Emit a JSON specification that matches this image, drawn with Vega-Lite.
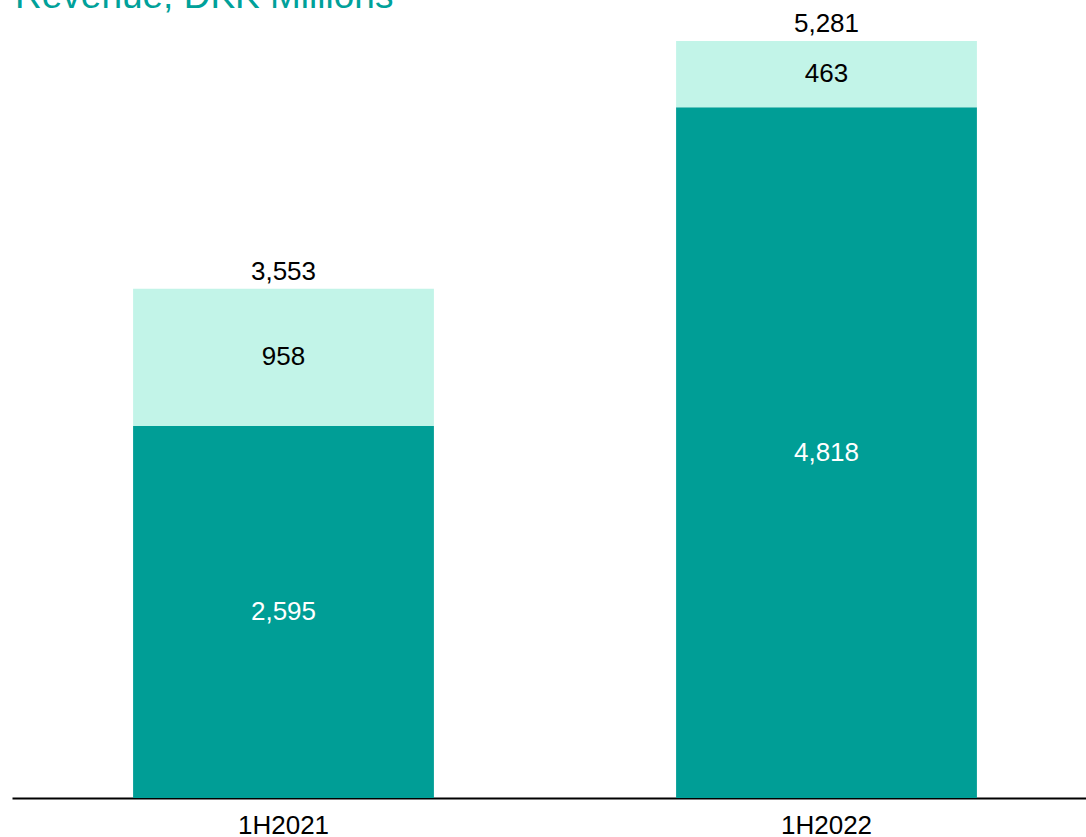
{
  "$schema": "https://vega.github.io/schema/vega-lite/v6.json",
  "width": 1086,
  "height": 798,
  "autosize": {"type": "none"},
  "padding": {"left": 12, "top": 0, "right": 0, "bottom": 39},
  "background": "white",
  "title": {
    "text": "Revenue, DKK Millions",
    "anchor": "start",
    "frame": "group",
    "color": "#00A19A",
    "fontSize": 37,
    "font": "Liberation Sans",
    "fontWeight": "normal",
    "offset": -16,
    "dx": 3
  },
  "config": {
    "view": {"stroke": null},
    "font": "Liberation Sans"
  },
  "data": {
    "values": [
      {"period": "1H2021", "segment": "Base", "order": 1, "value": 2595},
      {"period": "1H2021", "segment": "Other", "order": 2, "value": 958},
      {"period": "1H2022", "segment": "Base", "order": 1, "value": 4818},
      {"period": "1H2022", "segment": "Other", "order": 2, "value": 463}
    ]
  },
  "encoding": {
    "x": {
      "field": "period",
      "type": "nominal",
      "scale": {"paddingInner": 0.446, "paddingOuter": 0.223},
      "axis": {
        "title": null,
        "labelAngle": 0,
        "labelFontSize": 26,
        "labelColor": "#000000",
        "labelFont": "Liberation Sans",
        "labelPadding": 14,
        "ticks": false,
        "domainColor": "#000000",
        "domainWidth": 2
      }
    }
  },
  "layer": [
    {
      "transform": [
        {"stack": "value", "groupby": ["period"], "sort": [{"field": "order", "order": "ascending"}], "as": ["v0", "v1"]}
      ],
      "mark": {"type": "bar"},
      "encoding": {
        "y": {"field": "v1", "type": "quantitative", "scale": {"domain": [0, 5567], "nice": false}, "axis": null},
        "y2": {"field": "v0"},
        "color": {
          "field": "segment",
          "type": "nominal",
          "scale": {"domain": ["Base", "Other"], "range": ["#009E96", "#C2F4E8"]},
          "legend": null
        }
      }
    },
    {
      "transform": [
        {"stack": "value", "groupby": ["period"], "sort": [{"field": "order", "order": "ascending"}], "as": ["v0", "v1"]},
        {"calculate": "(datum.v0 + datum.v1) / 2", "as": "mid"}
      ],
      "mark": {"type": "text", "fontSize": 26, "baseline": "middle", "align": "center"},
      "encoding": {
        "y": {"field": "mid", "type": "quantitative", "scale": {"domain": [0, 5567], "nice": false}, "axis": null},
        "text": {"field": "value", "type": "quantitative", "format": ","},
        "color": {
          "condition": {"test": "datum.segment === 'Base'", "value": "#FFFFFF"},
          "value": "#000000"
        }
      }
    },
    {
      "transform": [
        {"aggregate": [{"op": "sum", "field": "value", "as": "total"}], "groupby": ["period"]}
      ],
      "mark": {"type": "text", "fontSize": 26, "baseline": "alphabetic", "align": "center", "dy": -9, "color": "#000000"},
      "encoding": {
        "y": {"field": "total", "type": "quantitative", "scale": {"domain": [0, 5567], "nice": false}, "axis": null},
        "text": {"field": "total", "type": "quantitative", "format": ","}
      }
    }
  ]
}
